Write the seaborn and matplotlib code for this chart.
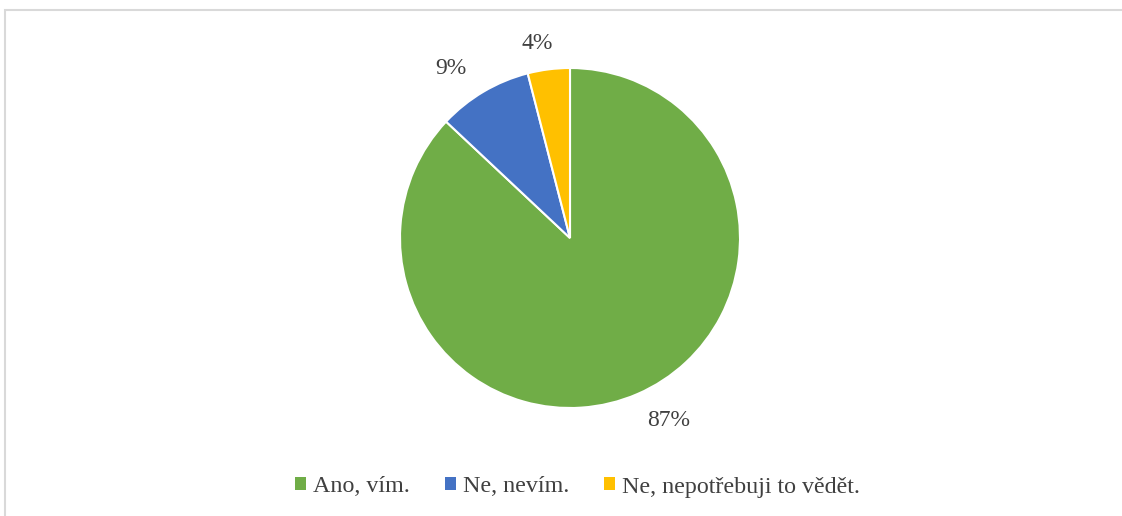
import numpy as np
import matplotlib.pyplot as plt
import matplotlib.patches as mpatches
import seaborn as sns

# data
labels = ['Ano, vím.', 'Ne, nevím.', 'Ne, nepotřebuji to vědět.']
values = [87, 9, 4]
colors = sns.color_palette(['#70AD47', '#4472C4', '#FFC000'])

# label placement tweaks (distance in radii, angle nudge in degrees)
label_dist = [1.22, 1.22, 1.16]
label_nudge = [5, 4.5, 2.5]

sns.set_theme(style='white')
plt.rcParams['font.family'] = ['Liberation Serif', 'DejaVu Serif']
TEXT_COLOR = '#404040'

fig = plt.figure(figsize=(11.22, 5.16), dpi=100)

# chart frame (top + left border visible)
frame = mpatches.Rectangle((5 / 1122, -0.1), 1.2, 1 - 9.5 / 516 + 0.1,
                           transform=fig.transFigure, fill=False,
                           edgecolor='#D9D9D9', linewidth=1.5)
fig.patches.append(frame)

# pie axes, centred at (570, 238) px, radius ~170 px
r_w = 340 / 1122
r_h = 340 / 516
ax = fig.add_axes([570 / 1122 - r_w / 2, (516 - 238) / 516 - r_h / 2, r_w, r_h])

wedges, texts, autotexts = ax.pie(
    values, colors=colors, startangle=90, counterclock=False,
    autopct='%1.0f%%', pctdistance=1.2,
    wedgeprops=dict(edgecolor='white', linewidth=1.5),
    textprops=dict(fontsize=17, color=TEXT_COLOR))

for w, t, d, n in zip(wedges, autotexts, label_dist, label_nudge):
    ang = np.deg2rad((w.theta1 + w.theta2) / 2 + n)
    t.set_position((d * np.cos(ang), d * np.sin(ang)))

ax.set_aspect('equal')
ax.set_xlim(-1, 1)
ax.set_ylim(-1, 1)
ax.axis('off')

handles = [mpatches.Patch(facecolor=c, edgecolor='none') for c in colors]
fig.legend(handles, labels, loc='center', bbox_to_anchor=(0.515, 1 - 487 / 516),
           ncol=3, frameon=False, fontsize=17.3, labelcolor=TEXT_COLOR,
           handlelength=0.45, handleheight=0.45, handletextpad=0.3,
           columnspacing=1.45)

fig.savefig('out.png', dpi=100)
